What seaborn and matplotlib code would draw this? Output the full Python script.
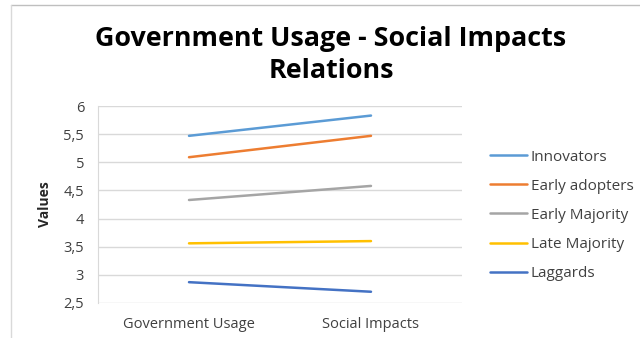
import pandas as pd
import matplotlib.pyplot as plt
import seaborn as sns
from matplotlib.lines import Line2D

# Datos
categorias = ['Government Usage', 'Social Impacts']
grupos = ['Innovators', 'Early adopters', 'Early Majority', 'Late Majority', 'Laggards']
innovators = [5.47, 5.83]
early_adopters = [5.09, 5.47]
early_majority = [4.33, 4.58]
late_majority = [3.56, 3.60]
laggards = [2.87, 2.70]
colores = ['#5B9BD5', '#ED7D31', '#A5A5A5', '#FFC000', '#4472C4']

valores = [innovators, early_adopters, early_majority, late_majority, laggards]
filas = []
for g, vals in zip(grupos, valores):
    for c, v in zip(categorias, vals):
        filas.append({'Grupo': g, 'Categoria': c, 'Valor': v})
datos = pd.DataFrame(filas)

sns.set_style('white')
plt.rcParams['font.family'] = ['Open Sans', 'DejaVu Sans']

fig = plt.figure(figsize=(6.4, 3.38), dpi=100)
ax = fig.add_axes([98 / 640, 1 - 303 / 338, 364 / 640, 197 / 338])

sns.lineplot(data=datos, x='Categoria', y='Valor', hue='Grupo', hue_order=grupos,
             palette=colores, linewidth=1.8, sort=False, ax=ax)

ax.set_xlim(-0.5, 1.5)
ax.set_ylim(2.5, 6)
ax.set_yticks([2.5, 3, 3.5, 4, 4.5, 5, 5.5, 6])
ax.set_yticklabels(['2,5', '3', '3,5', '4', '4,5', '5', '5,5', '6'])
ax.yaxis.grid(True, color='#D9D9D9', linewidth=1)
ax.tick_params(axis='both', labelsize=10.5, colors='#404040', length=0)
ax.tick_params(axis='x', pad=10)
ax.tick_params(axis='y', pad=10)
for s in ['top', 'right', 'bottom']:
    ax.spines[s].set_visible(False)
ax.spines['left'].set_color('#D9D9D9')
ax.set_xlabel('')
ax.set_ylabel('Values', fontsize=10, fontweight='bold', labelpad=8)

leg = ax.legend(loc='center left', frameon=False,
                fontsize=11, labelspacing=0.92, handlelength=2.4, handletextpad=0.25,
                borderaxespad=0, borderpad=0)
for t in leg.get_texts():
    t.set_color('#404040')
leg.set_bbox_to_anchor((1.077, 0.445), transform=ax.transAxes)

fig.text(331 / 640, 1 - 55 / 338, 'Government Usage - Social Impacts\nRelations',
         ha='center', va='center', fontsize=19.4, fontweight='bold',
         linespacing=1.25, color='black')

# Borde del grafico
fig.add_artist(Line2D([11 / 640, 1], [1 - 5 / 338, 1 - 5 / 338], color='#BFBFBF', linewidth=1))
fig.add_artist(Line2D([11 / 640, 11 / 640], [0, 1 - 5 / 338], color='#D9D9D9', linewidth=1))

fig.savefig('out.png', dpi=100)
